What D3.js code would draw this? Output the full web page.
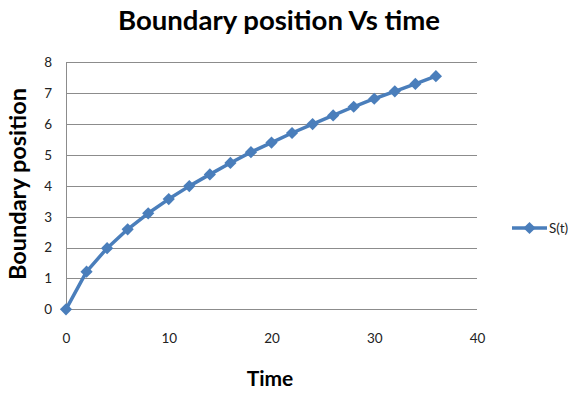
<!DOCTYPE html>
<html>
<head>
<meta charset="utf-8">
<script src="https://cdn.jsdelivr.net/npm/d3@7"></script>
<style>
  html, body { margin: 0; padding: 0; background: #fff; }
  svg { display: block; }
</style>
</head>
<body>
<svg id="chart" width="570" height="393"></svg>
<script>
// Boundary position S(t) sampled every 2 time units
const times = [0, 2, 4, 6, 8, 10, 12, 14, 16, 18, 20, 22, 24, 26, 28, 30, 32, 34, 36];
const positions = [0, 1.22, 1.98, 2.59, 3.11, 3.57, 3.99, 4.37, 4.74, 5.09, 5.40, 5.71, 6.00, 6.28, 6.56, 6.82, 7.06, 7.30, 7.55];
const xTicks = [0, 10, 20, 30, 40];
const yTicks = [0, 1, 2, 3, 4, 5, 6, 7, 8];
const seriesName = "S(t)";

const svg = d3.select("#chart");
const font = "Lato, 'Open Sans', sans-serif";
const blue = "#4A7EBB";

const x = d3.scaleLinear().domain([0, 40]).range([66, 477]);
const y = d3.scaleLinear().domain([0, 8]).range([309.3, 62.3]);

// horizontal gridlines
svg.append("g")
  .selectAll("line")
  .data(yTicks)
  .join("line")
  .attr("x1", x(0)).attr("x2", x(40))
  .attr("y1", d => Math.round(y(d)) + 0.5)
  .attr("y2", d => Math.round(y(d)) + 0.5)
  .attr("stroke", "#8c8c8c").attr("stroke-width", 1);

// vertical value axis line
svg.append("line")
  .attr("x1", Math.round(x(0)) + 0.5).attr("x2", Math.round(x(0)) + 0.5)
  .attr("y1", y(8)).attr("y2", y(0))
  .attr("stroke", "#8c8c8c");

// tick labels
const yAxis = d3.axisLeft(y).tickValues(yTicks).tickSize(0).tickPadding(14);
svg.append("g").attr("transform", `translate(${x(0)},0)`).call(yAxis)
  .call(g => g.select(".domain").remove())
  .selectAll("text").attr("font-family", font).attr("font-size", 13.5).attr("fill", "#222");

const xAxis = d3.axisBottom(x).tickValues(xTicks).tickSize(0).tickPadding(24);
svg.append("g").attr("transform", `translate(0,${y(0)})`).call(xAxis)
  .call(g => g.select(".domain").remove())
  .selectAll("text").attr("font-family", font).attr("font-size", 13.5).attr("fill", "#222");

// series line
const pts = times.map((t, i) => [t, positions[i]]);
svg.append("path")
  .datum(pts)
  .attr("fill", "none")
  .attr("stroke", blue)
  .attr("stroke-width", 3.5)
  .attr("stroke-linejoin", "round")
  .attr("d", d3.line().x(d => x(d[0])).y(d => y(d[1])));

// diamond markers
const diamond = d3.symbol().type(d3.symbolDiamond2).size(95);
svg.append("g")
  .selectAll("path")
  .data(pts)
  .join("path")
  .attr("transform", d => `translate(${x(d[0])},${y(d[1])})`)
  .attr("d", diamond)
  .attr("fill", blue);

// title
svg.append("text")
  .attr("x", 279).attr("y", 30)
  .attr("text-anchor", "middle")
  .attr("font-family", font).attr("font-weight", "bold").attr("font-size", 27)
  .attr("textLength", 322).attr("lengthAdjust", "spacingAndGlyphs")
  .attr("fill", "#000")
  .text("Boundary position Vs time");

// axis titles
svg.append("text")
  .attr("transform", "translate(26,184) rotate(-90)")
  .attr("text-anchor", "middle")
  .attr("font-family", font).attr("font-weight", "bold").attr("font-size", 23)
  .attr("textLength", 192).attr("lengthAdjust", "spacingAndGlyphs")
  .attr("fill", "#000")
  .text("Boundary position");

svg.append("text")
  .attr("x", 270).attr("y", 386)
  .attr("text-anchor", "middle")
  .attr("font-family", font).attr("font-weight", "bold").attr("font-size", 21)
  .attr("fill", "#000")
  .text("Time");

// legend
const lg = svg.append("g").attr("transform", "translate(512,228)");
lg.append("line").attr("x1", 0).attr("x2", 35).attr("y1", 0).attr("y2", 0)
  .attr("stroke", blue).attr("stroke-width", 3.5);
lg.append("path").attr("transform", "translate(17.5,0)").attr("d", diamond).attr("fill", blue);
lg.append("text").attr("x", 37).attr("y", 5)
  .attr("font-family", font).attr("font-size", 13.5).attr("fill", "#222")
  .text(seriesName);
</script>
</body>
</html>
